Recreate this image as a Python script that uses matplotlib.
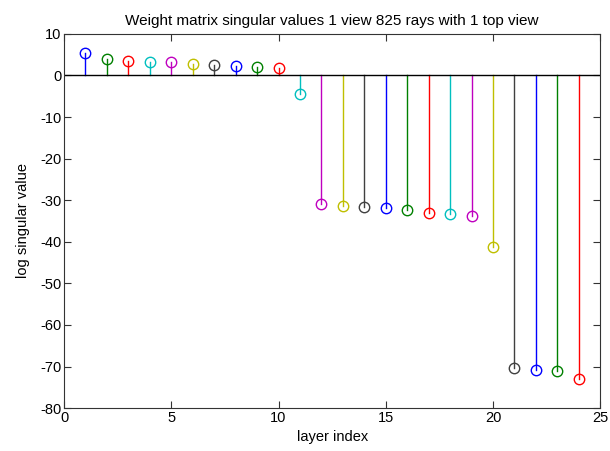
import numpy as np
import matplotlib.pyplot as plt

plt.rcParams['font.family'] = ['Liberation Sans', 'DejaVu Sans']
plt.rcParams['axes.unicode_minus'] = False

# Singular values (log) per layer
layer = np.arange(1, 25)
log_sv = [5.4, 4.0, 3.5, 3.3, 3.2, 2.8, 2.5, 2.3, 2.1, 1.8,
          -4.4, -30.9, -31.3, -31.6, -31.8, -32.3, -33.0, -33.3, -33.8, -41.2,
          -70.3, -70.8, -71.0, -72.9]

# MATLAB-style colour order
colors = ['#0000ff', '#008000', '#ff0000', '#00bfbf', '#bf00bf', '#bfbf00', '#404040']

fig = plt.figure(figsize=(6.1, 4.51), dpi=100)
ax = fig.add_axes([0.105, 0.095, 0.879, 0.83])

for i, (x, y) in enumerate(zip(layer, log_sv)):
    c = colors[i % len(colors)]
    ax.plot([x, x], [0, y], color=c, lw=1)
    ax.plot(x, y, 'o', mfc='none', mec=c, ms=7.5, mew=1)

ax.axhline(0, color='black', lw=1)

for s in ax.spines.values():
    s.set_color('#333333')

ax.set_xlim(0, 25)
ax.set_ylim(-80, 10)
ax.set_xticks(np.arange(0, 26, 5))
ax.set_yticks(np.arange(-80, 11, 10))
ax.tick_params(direction='in', top=True, right=True, labelsize=10.5, length=5,
               pad=2, color='#333333')
ax.set_title('Weight matrix singular values 1 view 825 rays with 1 top view', fontsize=11)
ax.set_xlabel('layer index', fontsize=10.5, labelpad=4)
ax.set_ylabel('log singular value', fontsize=10.5, labelpad=7)

plt.savefig('out.png')
